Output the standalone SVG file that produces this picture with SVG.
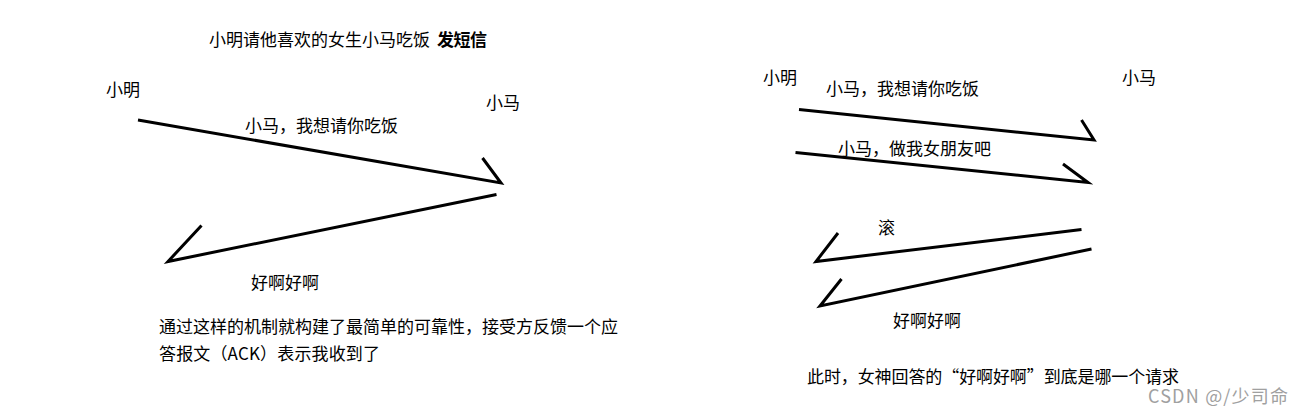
<svg xmlns="http://www.w3.org/2000/svg" width="1305" height="417" viewBox="0 0 1305 417">
<style>
  text { font-family: "Noto Sans CJK SC", "Noto Sans", sans-serif; font-size: 17px; fill: #000; }
  .b { font-weight: bold; }
  .wm { fill: #a0a0a0; font-size: 18px; }
  .ln { stroke: #000; stroke-width: 3; fill: none; stroke-linecap: butt; stroke-linejoin: miter; }
</style>
<rect x="0" y="0" width="1305" height="417" fill="#fff"/>
<g id="title"><text x="209" y="46" textLength="221" lengthAdjust="spacing">小明请他喜欢的女生小马吃饭</text><text class="b" x="437" y="46" textLength="50" lengthAdjust="spacing">发短信</text></g>
<g id="left-xiaoming"><text x="106" y="96">小明</text></g>
<g id="left-xiaoma"><text x="486" y="109">小马</text></g>
<g id="left-msg1"><text x="245" y="132">小马，我想请你吃饭</text></g>
<g id="left-msg2"><text x="251" y="289">好啊好啊</text></g>
<g id="left-note">
  <text x="159" y="333" textLength="459" lengthAdjust="spacing">通过这样的机制就构建了最简单的可靠性，接受方反馈一个应</text>
  <text x="159" y="360" textLength="221" lengthAdjust="spacing">答报文（ACK）表示我收到了</text>
</g>
<g id="right-xiaoming"><text x="763" y="84">小明</text></g>
<g id="right-xiaoma"><text x="1122" y="84">小马</text></g>
<g id="right-msg1"><text x="826" y="95">小马，我想请你吃饭</text></g>
<g id="right-msg2"><text x="838" y="155">小马，做我女朋友吧</text></g>
<g id="right-msg3"><text x="878" y="234">滚</text></g>
<g id="right-msg4"><text x="893" y="327">好啊好啊</text></g>
<g id="right-note"><text x="807" y="383" textLength="372" lengthAdjust="spacing">此时，女神回答的“好啊好啊”到底是哪一个请求</text></g>
<g id="watermark"><text class="wm" x="1148" y="403" textLength="140" lengthAdjust="spacing">CSDN @/少司命</text></g>
<g id="connectors">
  <polyline class="ln" points="138,120 501,183 482.5,158"/>
  <polyline class="ln" points="496.5,194.5 168,261.5 201.5,225.5"/>
  <polyline class="ln" points="799,109.5 1094,140 1081.5,120"/>
  <polyline class="ln" points="795.5,152.5 1088,182.5 1063,164"/>
  <polyline class="ln" points="1081.5,229.5 816,261.5 838,233"/>
  <polyline class="ln" points="1091.5,249 820,306 841.5,279"/>
</g>
</svg>
